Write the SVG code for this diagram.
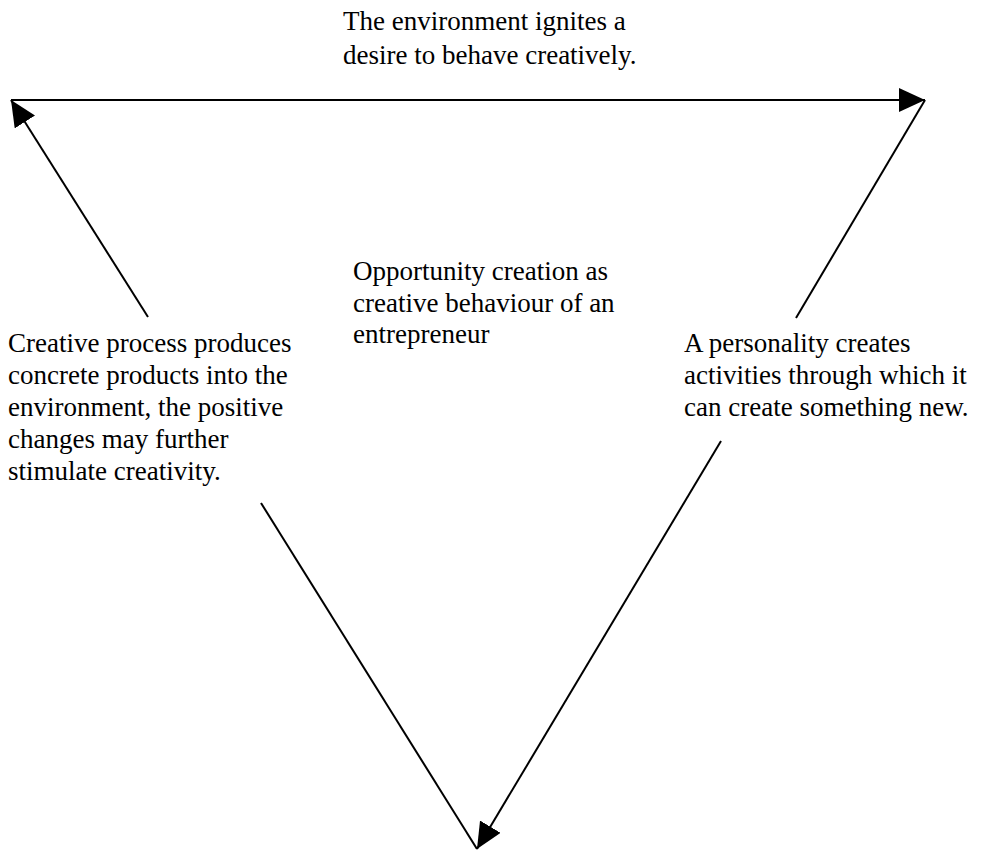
<svg xmlns="http://www.w3.org/2000/svg" width="981" height="852" viewBox="0 0 981 852">
<style>
text{font-family:"Liberation Serif","Times New Roman",serif;font-size:27px;fill:#000}
.c{stroke:#000;stroke-width:2;fill:none}
</style>
<defs>
<marker id="ah" markerUnits="userSpaceOnUse" markerWidth="30" markerHeight="24" refX="26" refY="12" orient="auto"><path d="M0,0 L26,12 L0,24 Z" fill="#000"/></marker>
</defs>
<rect width="981" height="852" fill="#fff"/>
<g id="connectors">
<line class="c" x1="11" y1="100" x2="925" y2="100" marker-end="url(#ah)"/>
<line class="c" x1="796" y1="318" x2="925" y2="100"/>
<line class="c" x1="721" y1="441" x2="477" y2="849" marker-end="url(#ah)"/>
<line class="c" x1="261" y1="503" x2="477" y2="849"/>
<line class="c" x1="148" y1="317" x2="11" y2="100" marker-end="url(#ah)"/>
</g>
<g id="top-label"><text x="343" y="30">The environment ignites a</text><text x="343" y="64">desire to behave creatively.</text></g>
<g id="center-label"><text x="353" y="280">Opportunity creation as</text><text x="353" y="312">creative behaviour of an</text><text x="353" y="343">entrepreneur</text></g>
<g id="left-label"><text x="8" y="352">Creative process produces</text><text x="8" y="384">concrete products into the</text><text x="8" y="416">environment, the positive</text><text x="8" y="448">changes may further</text><text x="8" y="480">stimulate creativity.</text></g>
<g id="right-label"><text x="684" y="352">A personality creates</text><text x="684" y="384">activities through which it</text><text x="684" y="416">can create something new.</text></g>
</svg>
